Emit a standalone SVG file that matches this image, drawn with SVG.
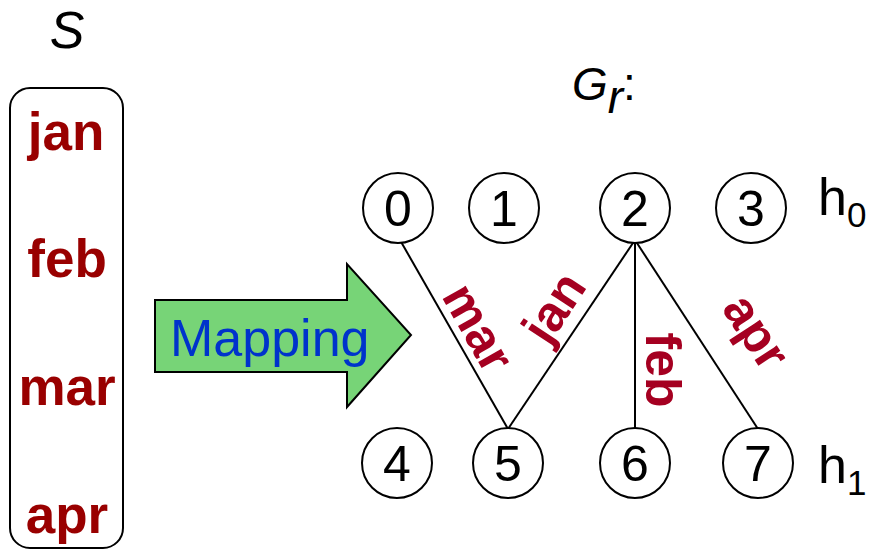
<svg xmlns="http://www.w3.org/2000/svg" width="869" height="551" viewBox="0 0 869 551">
  <style>
    .lbl { font-family: "Liberation Sans", Arial, sans-serif; }
    .month { font-weight: bold; fill: #990000; font-size: 53px; text-anchor: middle; }
    .edge-lbl { font-weight: bold; fill: #A50021; font-size: 50px; text-anchor: middle; }
    .node circle { fill: #ffffff; stroke: #000000; stroke-width: 2; }
    .node text { font-size: 50px; text-anchor: middle; fill: #000000; }
    .edges line { stroke: #000000; stroke-width: 2; }
  </style>
  <rect width="869" height="551" fill="#ffffff"/>

  <!-- sequence S -->
  <g id="seq">
    <text class="lbl" x="67" y="48" font-size="52" font-style="italic" text-anchor="middle">S</text>
    <rect x="10" y="88" width="113" height="460" rx="20" fill="#ffffff" stroke="#000000" stroke-width="2"/>
    <text class="lbl month" x="66" y="150">jan</text>
    <text class="lbl month" x="67" y="277">feb</text>
    <text class="lbl month" x="67" y="405">mar</text>
    <text class="lbl month" x="67" y="533">apr</text>
  </g>

  <!-- mapping arrow -->
  <g id="mapping">
    <polygon points="155,300 347,300 347,264 411,335 347,407 347,372 155,372" fill="#77D477" stroke="#000000" stroke-width="2"/>
    <text class="lbl" x="170" y="356" font-size="52" fill="#0033CC">Mapping</text>
  </g>

  <!-- graph title -->
  <g id="title">
    <text class="lbl" x="572" y="100" font-size="46" font-style="italic">G<tspan dy="13">r</tspan><tspan dy="-13" font-style="normal">:</tspan></text>
  </g>

  <!-- edges -->
  <g class="edges" id="edges">
    <line x1="400" y1="240" x2="508" y2="429"/>
    <line x1="635" y1="240" x2="508" y2="429"/>
    <line x1="635" y1="240" x2="635" y2="429"/>
    <line x1="635" y1="240" x2="758" y2="429"/>
  </g>

  <!-- edge labels -->
  <g id="edge-labels">
    <text class="lbl edge-lbl" transform="translate(474,330) rotate(60.5)" y="12">mar</text>
    <text class="lbl edge-lbl" transform="translate(558,310) rotate(-56.6)" y="12">jan</text>
    <text class="lbl edge-lbl" transform="translate(664,370) rotate(90)" y="18">feb</text>
    <text class="lbl edge-lbl" transform="translate(748,337) rotate(57)" y="7">apr</text>
  </g>

  <!-- level h0 -->
  <g id="n0" class="node"><circle cx="398" cy="208" r="35"/><text class="lbl" x="398" y="226">0</text></g>
  <g id="n1" class="node"><circle cx="504" cy="208" r="35"/><text class="lbl" x="504" y="226">1</text></g>
  <g id="n2" class="node"><circle cx="635" cy="208" r="35"/><text class="lbl" x="635" y="226">2</text></g>
  <g id="n3" class="node"><circle cx="751" cy="208" r="35"/><text class="lbl" x="751" y="226">3</text></g>
  <g id="h0"><text class="lbl" x="818" y="215" font-size="52">h<tspan font-size="35" dy="12">0</tspan></text></g>

  <!-- level h1 -->
  <g id="n4" class="node"><circle cx="397" cy="463" r="35"/><text class="lbl" x="397" y="481">4</text></g>
  <g id="n5" class="node"><circle cx="508" cy="463" r="35"/><text class="lbl" x="508" y="481">5</text></g>
  <g id="n6" class="node"><circle cx="635" cy="463" r="35"/><text class="lbl" x="635" y="481">6</text></g>
  <g id="n7" class="node"><circle cx="758" cy="463" r="35"/><text class="lbl" x="758" y="481">7</text></g>
  <g id="h1"><text class="lbl" x="818" y="483" font-size="52">h<tspan font-size="35" dy="12">1</tspan></text></g>
</svg>
